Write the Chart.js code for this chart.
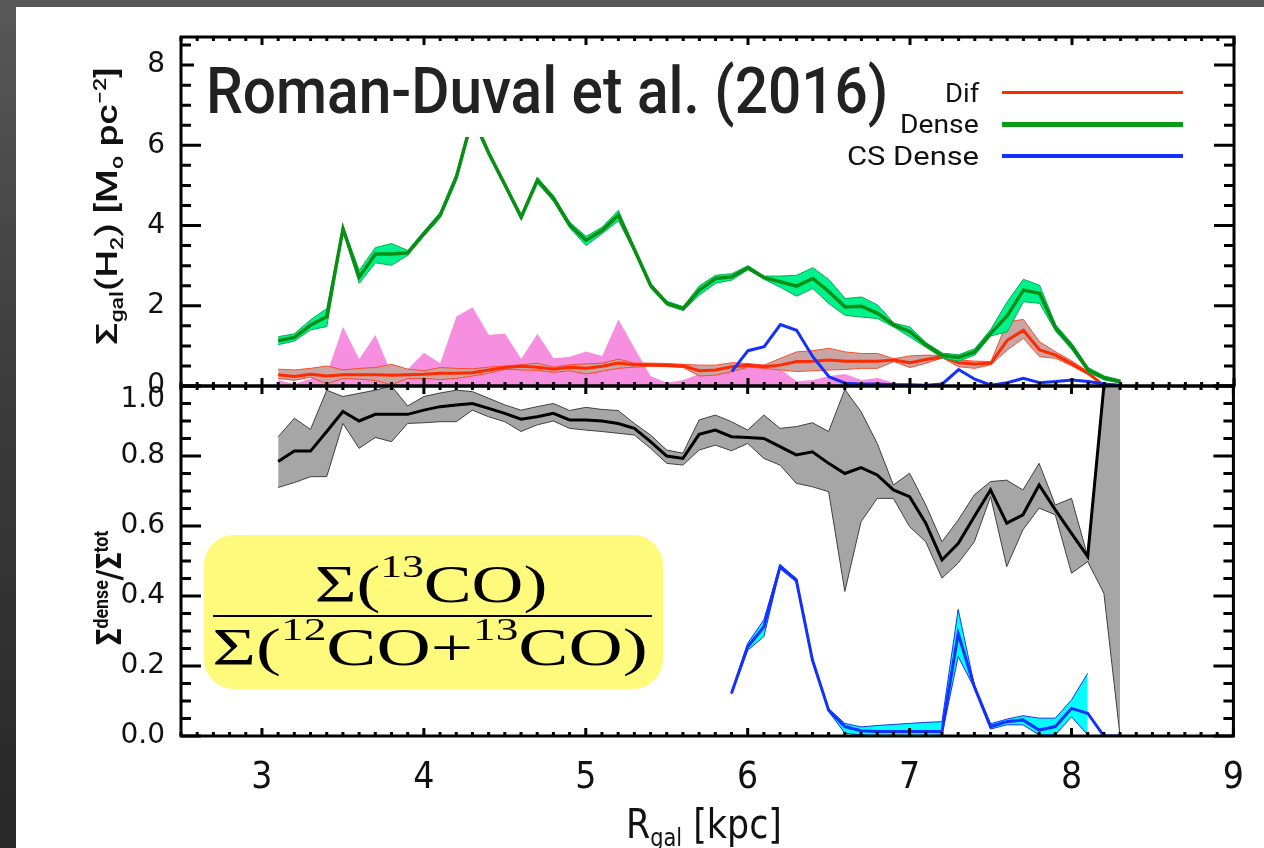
<!DOCTYPE html>
<html>
<head>
<meta charset="utf-8">
<title>Dense gas vs Rgal</title>
<script src="https://cdn.jsdelivr.net/npm/chart.js@4.4.1/dist/chart.umd.min.js"></script>
<style>
  html, body { margin: 0; padding: 0; }
  body {
    width: 1264px; height: 848px; position: relative; overflow: hidden;
    background: linear-gradient(180deg, #585858 0%, #3c3c3c 45%, #272727 100%);
  }
  #paper { position: absolute; left: 16px; top: 7px; right: 0; bottom: 0; background: #fff; }
  canvas { position: absolute; left: 0; top: 0; }
  .t { position: absolute; white-space: nowrap; line-height: 1; }
  .leg { right: 285px; font: 25px Roboto, sans-serif; color: #111; }
  .ll { position: absolute; left: 1002px; width: 181px; }
  .frac { font: 53px "Liberation Serif", serif; color: #000; }
  .frac .sup { font-size: 32px; position: relative; top: -25px; }
  .sb { font-size: 0.6em; position: relative; top: 0.32em; }
  .sp { font-size: 0.6em; position: relative; top: -0.62em; }
  .rot { font: 500 30px Roboto, sans-serif; color: #111; }
</style>
</head>
<body>
<div id="paper"></div>
<canvas id="topChart" width="1264" height="848"></canvas>
<canvas id="bottomChart" width="1264" height="848"></canvas>

<div id="titleBox" style="position:absolute;left:194px;top:46px;width:702px;height:91px;background:#fff"></div>
<div id="title" class="t" style="left:206px;top:53px;font:500 65px Roboto, sans-serif;color:#222">Roman-Duval et al. (2016)</div>

<div id="lgDif" class="t leg" style="top:79px">Dif</div>
<div id="lgDense" class="t leg" style="top:110px">Dense</div>
<div id="lgCS" class="t leg" style="top:142px">CS Dense</div>
<div class="ll" style="top:91px;height:3px;background:#ff2a00"></div>
<div class="ll" style="top:122px;height:5px;background:#0a9a14"></div>
<div class="ll" style="top:154px;height:4px;background:#1430ff"></div>

<div id="fbox" style="position:absolute;left:204px;top:535px;width:459px;height:154px;border-radius:30px;background:#fff97c"></div>
<div id="num" class="t frac" style="left:431px;top:554px">&Sigma;(<span class="sup">13</span>CO)</div>
<div style="position:absolute;left:213px;top:614.5px;width:439px;height:2.5px;background:#000"></div>
<div id="den" class="t frac" style="left:430px;top:617px">&Sigma;(<span class="sup">12</span>CO+<span class="sup">13</span>CO)</div>

<div id="yt1" class="t rot" style="left:106px;top:206px">&Sigma;<span class="sb">gal</span>(H<span class="sb">2</span>) [M<span class="sb">o</span> pc<span class="sp">&minus;2</span>]</div>
<div id="yt2" class="t rot" style="left:109px;top:588px;font-size:35px;font-weight:700">&Sigma;<span class="sp">dense</span>/&Sigma;<span class="sp">tot</span></div>
<div id="xt" class="t" style="left:704px;top:801px;font:40px 'Liberation Sans Narrow','DejaVu Sans Condensed',sans-serif;color:#111">R<span class="sb">gal</span> [kpc]</div>

<script>
// galactocentric radius bins (kpc)
const rGal = [3.1, 3.2, 3.3, 3.4, 3.5, 3.6, 3.7, 3.8, 3.9, 4.0,
              4.1, 4.2, 4.3, 4.4, 4.5, 4.6, 4.7, 4.8, 4.9, 5.0,
              5.1, 5.2, 5.3, 5.4, 5.5, 5.6, 5.7, 5.8, 5.9, 6.0,
              6.1, 6.2, 6.3, 6.4, 6.5, 6.6, 6.7, 6.8, 6.9, 7.0,
              7.1, 7.2, 7.3, 7.4, 7.5, 7.6, 7.7, 7.8, 7.9, 8.0,
              8.1, 8.2, 8.3];
// CS dense gas only covers the outer bins
const csR = [5.9, 6.0, 6.1, 6.2, 6.3, 6.4, 6.5, 6.6, 6.7, 6.8,
             6.9, 7.0, 7.1, 7.2, 7.3, 7.4, 7.5, 7.6, 7.7, 7.8,
             7.9, 8.0, 8.1, 8.2, 8.3];

// top panel: Sigma_gal(H2) [Msun pc^-2]
const denseMid = [1.13, 1.21, 1.52, 1.73, 3.92, 2.72, 3.29, 3.29, 3.32, 3.80,
                  4.26, 5.21, 6.70, 5.80, 5.01, 4.21, 5.13, 4.67, 4.01, 3.63,
                  3.88, 4.26, 3.39, 2.50, 2.06, 1.93, 2.39, 2.68, 2.72, 2.95,
                  2.70, 2.60, 2.49, 2.68, 2.35, 1.97, 1.99, 1.81, 1.52, 1.35,
                  1.02, 0.76, 0.71, 0.85, 1.32, 1.75, 2.39, 2.31, 1.44, 0.98,
                  0.40, 0.20, 0.11];
const denseHi = [1.23, 1.30, 1.65, 1.93, 3.98, 2.88, 3.45, 3.55, 3.38, 3.86,
                 4.33, 5.30, 6.78, 5.86, 5.07, 4.27, 5.20, 4.74, 4.08, 3.73,
                 3.96, 4.38, 3.45, 2.56, 2.11, 1.98, 2.50, 2.76, 2.80, 3.00,
                 2.74, 2.74, 2.76, 2.95, 2.65, 2.18, 2.22, 2.02, 1.57, 1.47,
                 1.08, 0.82, 0.78, 0.93, 1.42, 2.10, 2.66, 2.51, 1.52, 1.06,
                 0.46, 0.25, 0.15];
const denseLo = [1.03, 1.12, 1.40, 1.48, 3.86, 2.56, 3.07, 3.01, 3.26, 3.74,
                 4.19, 5.12, 6.62, 5.74, 4.95, 4.15, 5.06, 4.60, 3.94, 3.50,
                 3.80, 4.12, 3.33, 2.44, 2.01, 1.88, 2.27, 2.56, 2.64, 2.90,
                 2.66, 2.46, 2.24, 2.43, 2.05, 1.76, 1.72, 1.68, 1.47, 1.22,
                 0.96, 0.70, 0.62, 0.77, 1.25, 1.35, 2.10, 2.06, 1.36, 0.90,
                 0.34, 0.15, 0.07];
const difMid = [0.28, 0.24, 0.29, 0.25, 0.28, 0.28, 0.28, 0.27, 0.28, 0.29,
                0.32, 0.32, 0.33, 0.40, 0.46, 0.49, 0.47, 0.42, 0.47, 0.44,
                0.49, 0.57, 0.53, 0.53, 0.52, 0.50, 0.38, 0.40, 0.48, 0.52,
                0.48, 0.52, 0.61, 0.62, 0.65, 0.62, 0.62, 0.62, 0.65, 0.58,
                0.66, 0.73, 0.58, 0.55, 0.57, 1.14, 1.39, 0.90, 0.77, 0.55,
                0.32, 0.00, null];
const difHi = [0.42, 0.40, 0.44, 0.50, 0.40, 0.44, 0.46, 0.54, 0.42, 0.38,
               0.46, 0.44, 0.43, 0.47, 0.50, 0.53, 0.57, 0.47, 0.53, 0.55,
               0.57, 0.67, 0.57, 0.57, 0.56, 0.54, 0.52, 0.52, 0.58, 0.56,
               0.52, 0.69, 0.85, 0.88, 0.94, 0.85, 0.81, 0.81, 0.68, 0.75,
               0.77, 0.76, 0.65, 0.62, 0.61, 1.60, 1.66, 1.10, 0.85, 0.62,
               0.36, 0.00, null];
const difLo = [0.19, 0.14, 0.22, 0.05, 0.19, 0.17, 0.14, 0.03, 0.19, 0.19,
               0.16, 0.19, 0.25, 0.32, 0.42, 0.40, 0.39, 0.34, 0.38, 0.30,
               0.37, 0.44, 0.47, 0.49, 0.48, 0.46, 0.25, 0.27, 0.36, 0.47,
               0.44, 0.40, 0.36, 0.38, 0.40, 0.41, 0.44, 0.44, 0.61, 0.46,
               0.57, 0.70, 0.48, 0.44, 0.53, 0.90, 1.19, 0.73, 0.69, 0.50,
               0.28, 0.00, null];
const pinkTop = [0.15, 0.05, 0.19, 0.30, 1.48, 0.67, 1.27, 0.30, 0.42, 0.83,
                 0.57, 1.73, 1.96, 1.27, 1.31, 0.67, 1.30, 0.69, 0.73, 0.86,
                 0.75, 1.66, 0.94, 0.24, 0.08, 0.15, 0.30, 0.38, 0.45, 0.45,
                 0.55, 0.42, 0.12, 0.15, 0.25, 0.30, 0.15, 0.20, 0.08, 0.05,
                 0.03, 0.02, 0.03, 0.02, 0.02, 0.03, 0.05, 0.04, 0.03, 0.02,
                 0.02, 0.01, 0.00];
const csTop = [0.36, 0.88, 0.98, 1.53, 1.39, 0.73, 0.23, 0.07, 0.05, 0.05,
               0.03, 0.03, 0.02, 0.05, 0.41, 0.17, 0.02, 0.08, 0.19, 0.08,
               0.11, 0.15, 0.11, 0.05, 0.02];

// bottom panel: Sigma_dense / Sigma_tot
const fracMid = [0.784, 0.814, 0.814, 0.870, 0.927, 0.900, 0.919, 0.919, 0.919, 0.931,
                 0.941, 0.946, 0.950, 0.936, 0.922, 0.905, 0.912, 0.922, 0.903, 0.903,
                 0.900, 0.893, 0.879, 0.841, 0.800, 0.793, 0.862, 0.874, 0.855, 0.853,
                 0.850, 0.827, 0.803, 0.812, 0.779, 0.750, 0.767, 0.746, 0.703, 0.684,
                 0.608, 0.503, 0.550, 0.627, 0.703, 0.608, 0.632, 0.717, 0.646, 0.579,
                 0.513, 1.000, null];
const fracHi = [0.855, 0.908, 0.876, 0.988, 0.970, 0.979, 0.988, 1.000, 0.943, 0.970,
                0.980, 0.988, 0.984, 0.965, 0.946, 0.931, 0.941, 0.950, 0.930, 0.939,
                0.933, 0.930, 0.893, 0.860, 0.817, 0.808, 0.903, 0.917, 0.898, 0.874,
                0.917, 0.879, 0.884, 0.895, 0.870, 0.990, 0.927, 0.836, 0.717, 0.751,
                0.660, 0.555, 0.617, 0.689, 0.727, 0.731, 0.703, 0.779, 0.660, 0.679,
                0.513, 1.000, 1.000];
const fracLo = [0.710, 0.724, 0.741, 0.741, 0.893, 0.822, 0.853, 0.841, 0.893, 0.895,
                0.898, 0.898, 0.931, 0.912, 0.898, 0.870, 0.889, 0.900, 0.879, 0.874,
                0.870, 0.865, 0.860, 0.822, 0.779, 0.774, 0.817, 0.831, 0.815, 0.836,
                0.793, 0.774, 0.722, 0.712, 0.698, 0.413, 0.612, 0.679, 0.679, 0.598,
                0.555, 0.451, 0.494, 0.555, 0.684, 0.484, 0.589, 0.651, 0.632, 0.465,
                0.498, 0.408, 0.000];
const csFracMid = [0.122, 0.255, 0.312, 0.484, 0.446, 0.217, 0.074, 0.027, 0.015, 0.013,
                   0.013, 0.013, 0.013, 0.013, 0.293, 0.141, 0.027, 0.041, 0.046, 0.017,
                   0.027, 0.079, 0.065, 0.000, 0.000];
const csFracHi = [0.125, 0.265, 0.332, 0.490, 0.450, 0.220, 0.078, 0.036, 0.026, 0.030,
                  0.033, 0.036, 0.039, 0.041, 0.362, 0.145, 0.035, 0.048, 0.058, 0.051,
                  0.051, 0.103, 0.179, null, null];
const csFracLo = [0.119, 0.245, 0.284, 0.478, 0.440, 0.213, 0.070, 0.008, 0.003, 0.000,
                  0.000, 0.000, 0.000, 0.003, 0.227, 0.137, 0.020, 0.032, 0.032, 0.003,
                  0.003, 0.055, 0.003, null, null];

// axis ticks
const xTicks = [3, 4, 5, 6, 7, 8, 9];
const yTopTicks = [0, 2, 4, 6, 8];
const yBottomTicks = [0, 0.2, 0.4, 0.6, 0.8, 1.0];

const pts = (xs, ys) => xs.map((x, i) => ({ x: x, y: ys[i] }));

function lineSet(data, color, width, order, extra) {
  return Object.assign({
    data: data, borderColor: color, borderWidth: width, pointRadius: 0,
    tension: 0, fill: false, order: order, spanGaps: false
  }, extra || {});
}

// frame + inward major/minor ticks on all four sides
const frameTicks = {
  id: "frameTicks",
  afterDatasetsDraw(chart, args, o) {
    const { ctx, chartArea: a } = chart;
    const xs = chart.scales.x, ys = chart.scales.y;
    const steps = (min, max, step) => {
      const out = [];
      for (let k = Math.ceil(min / step - 1e-6); k * step <= max + 1e-6; k++) out.push(k * step);
      return out;
    };
    const isMajor = (v, m) => Math.abs(v / m - Math.round(v / m)) < 1e-6;
    ctx.save();
    ctx.strokeStyle = "#000";
    ctx.lineWidth = 3;
    ctx.beginPath();
    steps(xs.min, xs.max, o.xMinor).forEach((v) => {
      const len = isMajor(v, o.xMajor) ? 8 : 4;
      const px = xs.getPixelForValue(v);
      ctx.moveTo(px, a.top); ctx.lineTo(px, a.top + len);
      ctx.moveTo(px, a.bottom); ctx.lineTo(px, a.bottom - len);
    });
    steps(ys.min, ys.max, o.yMinor).forEach((v) => {
      const len = isMajor(v, o.yMajor) ? 20 : 10;
      const py = ys.getPixelForValue(v);
      ctx.moveTo(a.left, py); ctx.lineTo(a.left + len, py);
      ctx.moveTo(a.right, py); ctx.lineTo(a.right - len, py);
    });
    ctx.stroke();
    ctx.strokeRect(a.left, a.top, a.right - a.left, a.bottom - a.top);
    ctx.restore();
  }
};

const tickFont = { family: "DejaVu Sans", size: 28, lineHeight: 1.0 };

new Chart(document.getElementById("topChart"), {
  type: "line",
  data: {
    datasets: [
      lineSet(pts(csR, csTop), "#1430ff", 3, 0),
      lineSet(pts(rGal, denseMid), "#0a8f14", 3.5, 1),
      lineSet(pts(rGal, denseHi), "#00b050", 1, 3, { fill: "+1", backgroundColor: "#00f28c" }),
      lineSet(pts(rGal, denseLo), "#00b050", 1, 2),
      lineSet(pts(rGal, difMid), "#ff2a00", 3, 4),
      lineSet(pts(rGal, difHi), "#ff4a2a", 1, 6, { fill: "+1", backgroundColor: "#c9a6a4" }),
      lineSet(pts(rGal, difLo), "#ff4a2a", 1, 5),
      lineSet(pts(rGal, pinkTop), "rgba(0,0,0,0)", 0, 10, { fill: "origin", backgroundColor: "#f78fe0" })
    ]
  },
  options: {
    responsive: false,
    animation: false,
    devicePixelRatio: 1,
    events: [],
    layout: { autoPadding: false, padding: { left: 0, top: 37, right: 30, bottom: 462 } },
    plugins: {
      legend: { display: false },
      tooltip: { enabled: false },
      frameTicks: { xMajor: 1, xMinor: 0.1, yMajor: 2, yMinor: 0.5 }
    },
    scales: {
      x: { type: "linear", display: false, min: 2.5, max: 9 },
      y: {
        type: "linear", min: 0, max: 8.7,
        grid: { display: false, drawTicks: false },
        border: { display: false },
        afterFit: (s) => { s.width = 181; },
        afterBuildTicks: (s) => { s.ticks = yTopTicks.map((v) => ({ value: v })); },
        ticks: { padding: 16, color: "#111", font: tickFont, callback: (v) => String(v) }
      }
    }
  },
  plugins: [frameTicks]
});

new Chart(document.getElementById("bottomChart"), {
  type: "line",
  data: {
    datasets: [
      lineSet(pts(csR, csFracMid), "#1430ff", 3, 0),
      lineSet(pts(csR, csFracHi), "#1430ff", 1, 2, { fill: "+1", backgroundColor: "#00ffff" }),
      lineSet(pts(csR, csFracLo), "#1430ff", 1, 1),
      lineSet(pts(rGal, fracMid), "#000", 3, 3),
      lineSet(pts(rGal, fracHi), "#404040", 1, 5, { fill: "+1", backgroundColor: "#a6a6a6" }),
      lineSet(pts(rGal, fracLo), "#404040", 1, 4)
    ]
  },
  options: {
    responsive: false,
    animation: false,
    devicePixelRatio: 1,
    events: [],
    layout: { autoPadding: false, padding: { left: 0, top: 386, right: 30, bottom: 0 } },
    plugins: {
      legend: { display: false },
      tooltip: { enabled: false },
      frameTicks: { xMajor: 1, xMinor: 0.1, yMajor: 0.2, yMinor: 0.05 }
    },
    scales: {
      x: {
        type: "linear", min: 2.5, max: 9,
        grid: { display: false, drawTicks: false },
        border: { display: false },
        afterFit: (s) => { s.height = 112; },
        afterBuildTicks: (s) => { s.ticks = xTicks.map((v) => ({ value: v })); },
        ticks: {
          padding: 20, color: "#111", autoSkip: false, maxRotation: 0,
          font: { family: "'Liberation Sans Narrow', 'DejaVu Sans Condensed', sans-serif", size: 37 },
          callback: (v) => String(v)
        }
      },
      y: {
        type: "linear", min: 0, max: 1.0,
        grid: { display: false, drawTicks: false },
        border: { display: false },
        afterFit: (s) => { s.width = 181; },
        afterBuildTicks: (s) => { s.ticks = yBottomTicks.map((v) => ({ value: v })); },
        // the 1.0 label sits a little lower so it does not hide the top panel's 0
        ticks: {
          padding: 16, color: "#111", font: tickFont,
          callback: (v) => (v === 1 ? ["", v.toFixed(1)] : v.toFixed(1))
        }
      }
    }
  },
  plugins: [frameTicks]
});

// squeeze/stretch annotation texts to the widths they take in the figure
function fit(id, target, pre, origin) {
  const el = document.getElementById(id);
  el.style.transformOrigin = origin;
  el.style.transform = pre + " scaleX(" + (target / el.offsetWidth).toFixed(4) + ")";
}
function layoutText() {
  fit("title", 682, "", "0 50%");
  fit("lgDif", 34, "", "100% 50%");
  fit("lgDense", 79, "", "100% 50%");
  fit("lgCS", 132, "", "100% 50%");
  fit("num", 233, "translateX(-50%)", "50% 50%");
  fit("den", 435, "translateX(-50%)", "50% 50%");
  fit("yt1", 278, "translate(-50%,-50%) rotate(-90deg)", "50% 50%");
  fit("yt2", 115, "translate(-50%,-50%) rotate(-90deg)", "50% 50%");
  fit("xt", 156, "translateX(-50%)", "50% 50%");
}
layoutText();
document.fonts.ready.then(layoutText);
</script>
</body>
</html>
